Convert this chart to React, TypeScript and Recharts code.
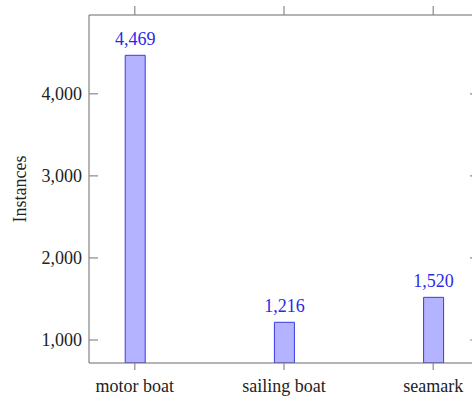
import React from 'react';
import { BarChart, Bar, XAxis, YAxis, LabelList } from 'recharts';

const categories = ['motor boat', 'sailing boat', 'seamark'];
const instances = [4469, 1216, 1520];
const yTicks = [1000, 2000, 3000, 4000];
const yDomain: [number, number] = [720, 4960];
const xDomain: [number, number] = [-0.307, 2.307];
const xTicks = [0, 1, 2];

const data = categories.map((c, i) => ({ idx: i, name: c, value: instances[i] }));

const FONT = "'Liberation Serif', 'DejaVu Serif', serif";
const AXIS = '#6a6a6a';
const TICK = '#8a8a8a';
const TEXT = '#222';
const BLUE = '#2a2ae6';
const FS = 18;

const fmt = (v: number) => v.toLocaleString('en-US');

const MB = 16;
function BottomTick(p: any) {
  const { x, y, payload } = p;
  const ay = y - MB;
  return (
    <g>
      <path d={`M${x},${ay}L${x},${ay + 7}`} stroke={TICK} strokeWidth={1.2} fill="none" />
      <text x={x} y={ay + 29} textAnchor="middle" fill={TEXT} fontSize={FS} fontFamily={FONT}>
        {categories[payload.value]}
      </text>
    </g>
  );
}

function TopTick(p: any) {
  const { x, y } = p;
  return <path d={`M${x},${y}L${x},${y - 9}`} stroke={TICK} strokeWidth={1.2} fill="none" />;
}

const ML = 7;
function LeftTick(p: any) {
  const { x, y, payload } = p;
  const ax = x + ML;
  return (
    <g>
      <path d={`M${ax},${y}L${ax + 9},${y}`} stroke={TICK} strokeWidth={1.2} fill="none" />
      <text x={x} y={y + 6} textAnchor="end" fill={TEXT} fontSize={FS} fontFamily={FONT}>
        {fmt(payload.value)}
      </text>
    </g>
  );
}

function RightTick(p: any) {
  const { x, y } = p;
  return <path d={`M${x},${y}L${x - 9},${y}`} stroke={TICK} strokeWidth={1.2} fill="none" />;
}

export default function App() {
  return (
    <div
      style={{
        position: 'fixed',
        left: 0,
        top: 0,
        width: 472,
        height: 396,
        overflow: 'hidden',
        background: '#fff',
        fontFamily: FONT,
      }}
    >
      <BarChart
        width={500}
        height={396}
        data={data}
        margin={{ top: 5, right: 21, bottom: 0, left: 0 }}
      >
        <XAxis
          xAxisId="bottom"
          dataKey="idx"
          type="number"
          domain={xDomain}
          ticks={xTicks}
          interval={0}
          allowDataOverflow
          height={33}
          tickLine={false}
          tickSize={0}
          tickMargin={MB}
          stroke={AXIS}
          tick={BottomTick}
        />
        <XAxis
          xAxisId="top"
          orientation="top"
          dataKey="idx"
          type="number"
          domain={xDomain}
          ticks={xTicks}
          interval={0}
          allowDataOverflow
          height={10}
          tickLine={false}
          tickSize={0}
          tickMargin={0}
          stroke={AXIS}
          tick={TopTick}
        />
        <YAxis
          yAxisId="left"
          type="number"
          domain={yDomain}
          ticks={yTicks}
          interval={0}
          allowDataOverflow
          width={89}
          tickLine={false}
          tickSize={0}
          tickMargin={ML}
          stroke={AXIS}
          tick={LeftTick}
          label={{
            value: 'Instances',
            angle: -90,
            position: 'insideLeft',
            offset: 0,
            dx: 20,
            style: { textAnchor: 'middle', fill: TEXT, fontSize: FS, fontFamily: FONT },
          }}
        />
        <YAxis
          yAxisId="right"
          orientation="right"
          mirror
          type="number"
          domain={yDomain}
          ticks={yTicks}
          interval={0}
          allowDataOverflow
          width={1}
          tickLine={false}
          tickSize={0}
          tickMargin={0}
          stroke={AXIS}
          tick={RightTick}
        />
        <Bar
          xAxisId="bottom"
          yAxisId="left"
          dataKey="value"
          barSize={20}
          fill="#b3b3ff"
          stroke="#3a3ae8"
          strokeWidth={1}
          isAnimationActive={false}
        >
          <LabelList
            dataKey="value"
            position="top"
            offset={10}
            formatter={(v: number) => fmt(v)}
            style={{ fill: BLUE, fontSize: FS, fontFamily: FONT }}
          />
        </Bar>
      </BarChart>
    </div>
  );
}
